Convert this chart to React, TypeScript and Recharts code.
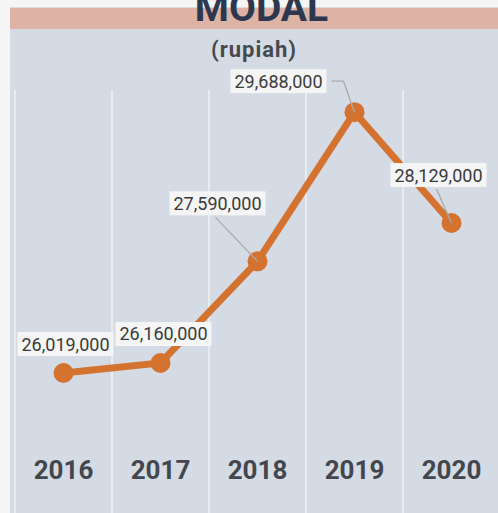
import { LineChart, Line, XAxis, YAxis, CartesianGrid, LabelList } from 'recharts'

const years = ['2016', '2017', '2018', '2019', '2020']
const modal = [26019000, 26160000, 27590000, 29688000, 28129000]
const gridTicks = [0, 1, 2, 3, 4, 5]

// label box position relative to its point, plus leader line mode
const labelOffsets = [
  { dx: 2, dy: -29, leader: 'none' },
  { dx: 3, dy: -29, leader: 'none' },
  { dx: -40, dy: -58, leader: 'straight' },
  { dx: -76, dy: -31, leader: 'elbow' },
  { dx: -13, dy: -48, leader: 'straight' },
]

const data = years.map((y, i) => ({ pos: i + 0.5, year: y, modal: modal[i] }))

const ORANGE = '#d4722f'
const FONT = 'Roboto, "Noto Sans", sans-serif'

function fmt(v: number): string {
  return v.toLocaleString('en-US')
}

function ValueLabel(props: any) {
  const { x, y, value, index } = props
  const o = labelOffsets[index]
  const cx = x + o.dx
  const cy = y + o.dy
  const w = 96
  const h = 24
  let leader = null
  if (o.leader === 'straight') {
    leader = <line x1={cx - 2} y1={cy + h / 2 + 2} x2={x} y2={y} stroke="#a9aaac" strokeWidth={1.3} />
  } else if (o.leader === 'elbow') {
    leader = (
      <polyline
        points={`${cx + w / 2 + 5},${cy} ${cx + w / 2 + 17},${cy} ${x},${y}`}
        fill="none"
        stroke="#a9aaac"
        strokeWidth={1.3}
      />
    )
  }
  return (
    <g>
      {leader}
      <rect x={cx - w / 2} y={cy - h / 2} width={w} height={h} fill="#f5f5f5" />
      <text
        x={cx}
        y={cy + 6.5}
        textAnchor="middle"
        fontFamily={FONT}
        fontSize={18}
        fill="#3a3a3c"
      >
        {fmt(value)}
      </text>
    </g>
  )
}

function YearTick(props: any) {
  const { x, y, payload } = props
  return (
    <text
      x={x}
      y={y - 72}
      textAnchor="middle"
      fontFamily={FONT}
      fontWeight={700}
      fontSize={26}
      fill="#43474d"
    >
      {years[Math.round(payload.value - 0.5)]}
    </text>
  )
}

export default function App() {
  return (
    <div style={{ position: 'fixed', left: 0, top: 0, width: 498, height: 513, overflow: 'hidden', background: '#f5f5f5' }}>
      <div style={{ position: 'absolute', left: 10, top: 7, right: 0, bottom: 0, background: '#d5dbe5', borderTop: '1px solid #dcdcdc' }} />
      <div style={{ position: 'absolute', left: 10, top: 8, right: 0, height: 21, background: '#dcb3a4' }} />
      <div
        style={{
          position: 'absolute', left: 10, right: 0, top: -14, textAlign: 'center',
          fontFamily: FONT, fontWeight: 700, fontSize: 39, lineHeight: '44px', color: '#2d3750',
          paddingLeft: 15,
        }}
      >
        MODAL
      </div>
      <div
        style={{
          position: 'absolute', left: 10, right: 0, top: 37, textAlign: 'center',
          fontFamily: FONT, fontWeight: 700, fontSize: 22, lineHeight: '26px', color: '#46494e',
          letterSpacing: 1,
        }}
      >
        (rupiah)
      </div>
      <div style={{ position: 'absolute', left: 0, top: 0 }}>
        <LineChart width={510} height={543} data={data} margin={{ top: 90, right: 10, left: 15, bottom: 0 }}>
          <CartesianGrid xAxisId="grid" horizontal={false} stroke="#eef0f3" strokeWidth={1.6} />
          <XAxis xAxisId="grid" type="number" dataKey="pos" domain={[0, 5]} ticks={gridTicks} hide />
          <XAxis
            xAxisId="main"
            type="number"
            dataKey="pos"
            domain={[0, 5]}
            ticks={data.map((d) => d.pos)}
            height={30}
            axisLine={false}
            tickLine={false}
            tick={<YearTick />}
            interval={0}
          />
          <YAxis type="number" domain={[24050000, 30000000]} hide />
          <Line
            xAxisId="main"
            dataKey="modal"
            stroke={ORANGE}
            strokeWidth={7}
            dot={{ r: 10, fill: ORANGE, stroke: 'none' }}
            isAnimationActive={false}
          >
            <LabelList dataKey="modal" content={<ValueLabel />} />
          </Line>
        </LineChart>
      </div>
    </div>
  )
}
